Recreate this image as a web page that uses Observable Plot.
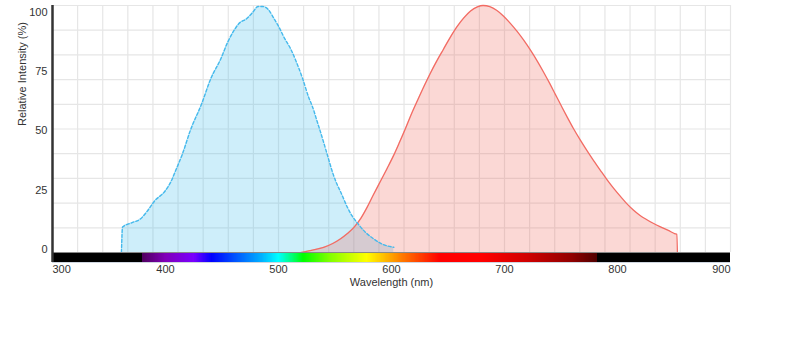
<!DOCTYPE html>
<html><head><meta charset="utf-8">
<script src="https://cdn.jsdelivr.net/npm/d3@7"></script>
<script src="https://cdn.jsdelivr.net/npm/@observablehq/plot@0.6"></script>
<style>body{margin:0;background:#fff}#chart{width:789px;height:356px}</style>
</head><body><div id="chart"></div>
<script>
// Excitation (blue, dashed) spectrum
const blueNm  = [361, 362, 370, 378, 384, 390, 400, 405, 409, 415, 422, 432, 440, 449, 455, 460, 465, 472, 477, 482, 486, 491, 496, 500, 505, 511, 516, 521, 527, 530, 534, 537, 543, 548, 552, 555, 561, 565, 570, 577, 584, 592, 602];
const blueVal = [0, 10.7, 12.5, 14.2, 17.5, 21.5, 26.1, 30, 34.5, 41.5, 51.4, 62.6, 73.1, 81.6, 88.5, 93, 96.4, 98.5, 101, 103.6, 103.6, 102.3, 98.5, 95.3, 90.5, 85.5, 80, 73.7, 65, 61.5, 55.5, 51, 41.5, 33.5, 28.5, 25.5, 19, 15.5, 12.3, 8.5, 5.8, 3.5, 2.2];
// Emission (red, solid) spectrum
const redNm  = [519.5, 530, 540, 548, 555, 561, 567, 573, 578.5, 584, 590, 596, 602, 607, 612, 617, 623, 629, 634.5, 640, 646, 652, 658, 664, 670, 676, 681, 687, 693, 699, 705, 711, 717, 723, 729, 735, 740, 745, 750, 755.5, 761, 767, 773, 779, 785, 791, 797, 803, 808, 814, 820, 826, 832, 838, 845, 851, 852.5, 853];
const redVal = [0, 1, 2.2, 3.8, 5.8, 8, 10.7, 14.5, 19.1, 24.3, 29.8, 35.3, 41, 46.3, 51.8, 57.6, 64, 70.2, 75.6, 80.6, 85.6, 90.6, 95.1, 98.8, 101.7, 103.4, 104, 103.5, 102, 99.6, 96.6, 93.2, 89.4, 85.2, 80.6, 75.6, 71.2, 66.6, 62, 57, 52.2, 47.4, 42.9, 38.6, 34.5, 30.5, 26.8, 23.4, 20.7, 17.9, 15.6, 13.8, 12.2, 10.8, 9.3, 7.9, 7.7, 0];
// Tick labels
const xTicksMid = [400, 500, 600, 700, 800];
const xTickFirst = [300];
const xTickLast = [900];
const yTicks = [0, 25, 50, 75, 100];
// Visible-spectrum colour stops for the bar under the axis
const spectrumNm = [380, 400, 425, 441, 465, 485, 500, 510, 522, 545, 578, 593, 608, 625, 643, 680, 720, 760, 782];
const spectrumColors = ["#500060", "#8000b8", "#7a00ff", "#0000ff", "#0060ff", "#00b0ff", "#00ffff", "#00ff90", "#00ff00", "#80ff00", "#ffff00", "#ffc000", "#ff8000", "#ff4000", "#ff0000", "#ff0000", "#d00000", "#900000", "#500000"];
const blackBands = [[300, 380], [782, 900]];

const yTop = 104, barBottom = -4.2;
const blue = blueNm.map((x, i) => ({x, y: blueVal[i]}));
const red = redNm.map((x, i) => ({x, y: redVal[i]}));

const spectrum = [];
for (const [a, b] of blackBands) spectrum.push({x1: a, x2: b, c: "#000000"});
for (let i = 0; i < spectrumNm.length - 1; i++) {
  const a = spectrumNm[i], b = spectrumNm[i + 1];
  const interp = d3.interpolateRgb(spectrumColors[i], spectrumColors[i + 1]);
  for (let w = a; w < b; w += 0.5) {
    spectrum.push({x1: w, x2: Math.min(w + 1.5, b + 0.5), c: d3.color(interp((w - a) / (b - a))).formatHex()});
  }
}

const chart = Plot.plot({
  width: 789, height: 356,
  marginLeft: 52, marginRight: 59, marginTop: 5, marginBottom: 94,
  x: {domain: [300, 900], axis: null},
  y: {domain: [barBottom, yTop], axis: null},
  style: {fontFamily: "'Liberation Sans', Arial, sans-serif", fontSize: "11px", color: "#333", background: "#fff"},
  marks: [
    Plot.ruleY(d3.range(11).map(i => i * yTop / 10), {stroke: "#e6e6e6", strokeWidth: 1.2}),
    Plot.ruleX(d3.range(28).map(i => 300 + i * 600 / 27), {y1: () => 0, y2: () => yTop, stroke: "#e6e6e6", strokeWidth: 1.2}),
    Plot.areaY(blue, {x: "x", y: "y", fill: "#3bbbeb", fillOpacity: 0.25, curve: "monotone-x"}),
    Plot.areaY(red, {x: "x", y: "y", fill: "#ef6359", fillOpacity: 0.25, curve: "monotone-x"}),
    Plot.lineY(red, {x: "x", y: "y", stroke: "#f26b63", strokeWidth: 1.3, curve: "monotone-x"}),
    Plot.lineY(blue, {x: "x", y: "y", stroke: "#45b9ec", strokeWidth: 1.4, strokeDasharray: "3,2", curve: "monotone-x"}),
    Plot.rect(spectrum, {x1: "x1", x2: "x2", y1: () => barBottom, y2: () => 0, fill: "c", shapeRendering: "crispEdges"}),
    Plot.ruleY([0], {stroke: "#8a8a8a", strokeWidth: 1}),
    Plot.ruleY([barBottom], {stroke: "#cfd6e0", strokeWidth: 1}),
    Plot.ruleX([300], {y1: () => barBottom, y2: () => yTop, stroke: "#333", strokeWidth: 2.5}),
    Plot.text(yTicks, {x: () => 300, y: d => d, text: d => String(d), textAnchor: "end", dx: -5, dy: -3, fill: "#333"}),
    Plot.text(xTicksMid, {x: d => d, text: d => String(d), frameAnchor: "bottom", lineAnchor: "top", dy: 3, fill: "#333"}),
    Plot.text(xTickFirst, {x: d => d, text: d => String(d), frameAnchor: "bottom", lineAnchor: "top", textAnchor: "start", dy: 3, fill: "#333"}),
    Plot.text(xTickLast, {x: d => d, text: d => String(d), frameAnchor: "bottom", lineAnchor: "top", textAnchor: "end", dy: 3, fill: "#333"}),
    Plot.text(["Wavelength (nm)"], {frameAnchor: "bottom", lineAnchor: "top", dy: 16, fill: "#333"}),
    Plot.text(["Relative Intensity (%)"], {frameAnchor: "left", rotate: -90, dx: -30, dy: -8, fill: "#333"})
  ]
});
document.getElementById("chart").appendChild(chart);
</script>
</body></html>
